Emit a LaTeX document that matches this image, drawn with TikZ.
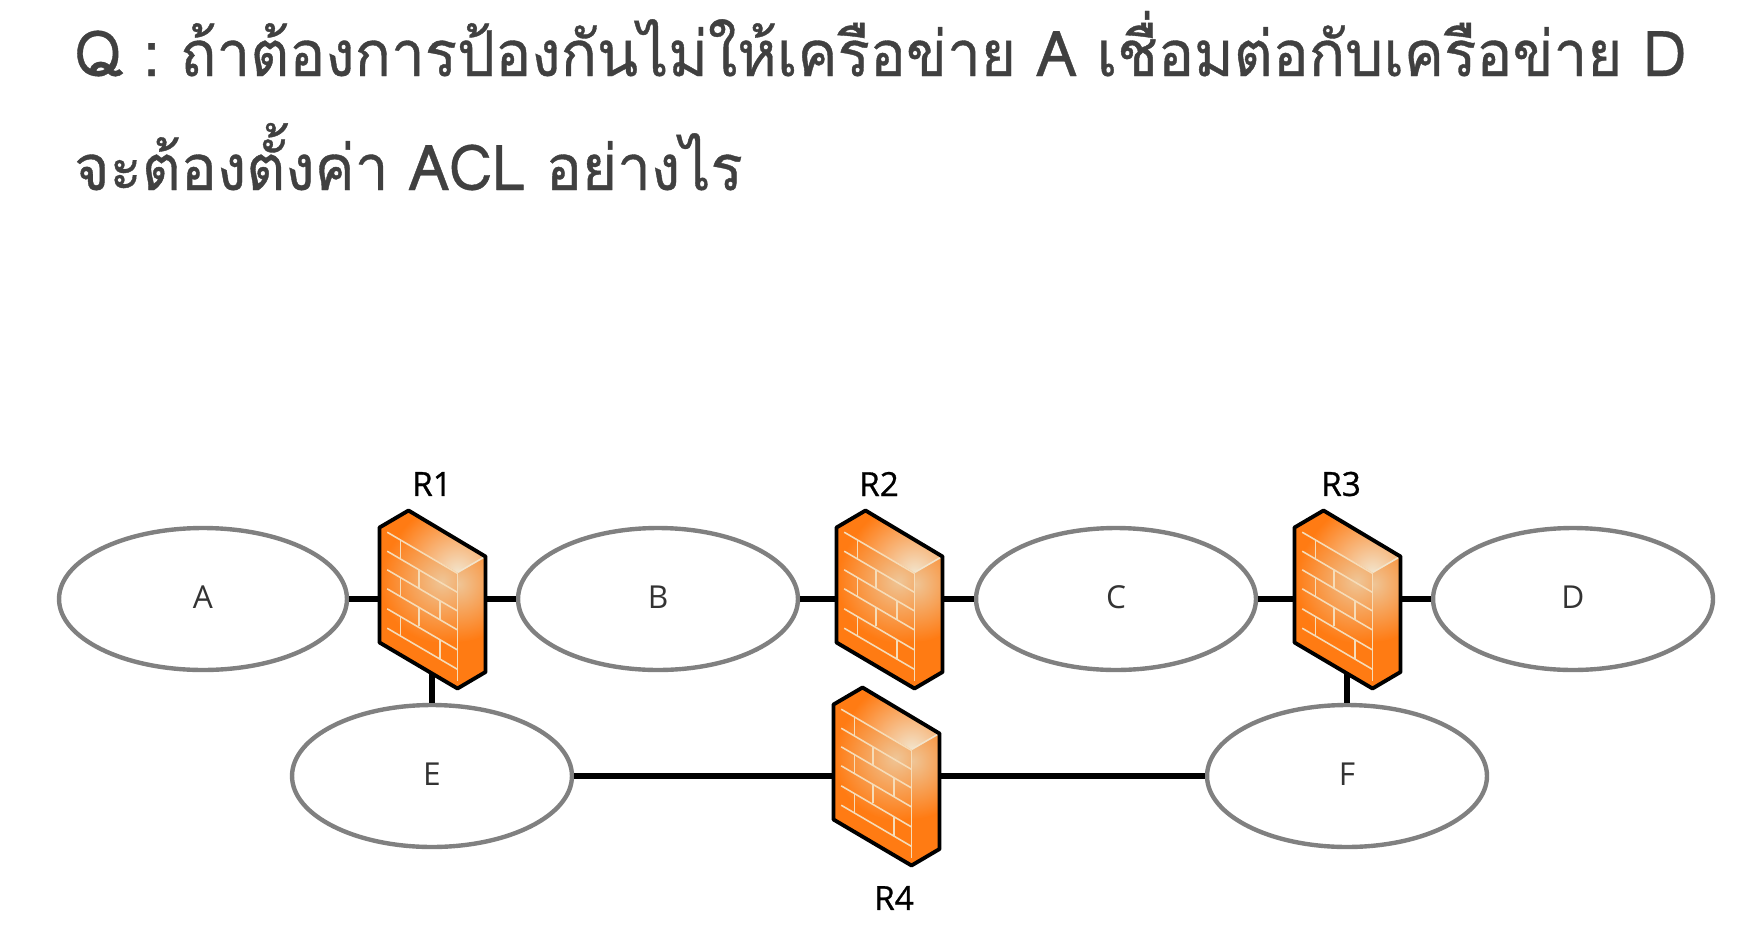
\documentclass[tikz,border=0pt]{standalone}
\usepackage{fontspec}
\usetikzlibrary{shapes.geometric}
\newfontfamily\thaifont[Script=Thai,FakeStretch=0.95,FakeBold=0.6]{Loma}
\newfontfamily\labelfont{Open Sans}
\newfontfamily\fwfont[FakeBold=0.8]{Open Sans}

\definecolor{fworange}{HTML}{FF7B13}
\definecolor{fwlight}{HTML}{EFC596}
\definecolor{fwpale}{HTML}{F2E4CC}
\definecolor{fwbrick}{HTML}{F6DCB8}

\tikzset{
  net/.style={ellipse,draw=black!50,line width=2.5pt,fill=white,inner sep=0pt,
    minimum width=5.6cm,minimum height=2.84cm,text=black!80,text depth=2.5pt,
    font=\labelfont\fontsize{18}{20}\selectfont},
  fwbox/.style={rectangle,inner sep=0pt,minimum width=2.1cm,minimum height=3cm},
  fwlabel/.style={text=black,font=\fwfont\fontsize{19}{21}\selectfont},
  link/.style={line width=3pt,black},
  title/.style={anchor=base west,inner sep=0pt,text=black!75,font=\thaifont\fontsize{36}{40}\selectfont}
}

\newcommand{\firewall}[1]{
  \begin{scope}[shift={(#1)}]
    \coordinate (tv) at (-23.5,-88.5);
    \coordinate (tl) at (-52.5,-71.5);
    \coordinate (bl) at (-52.5,43.5);
    \coordinate (bv) at (25.5,89.5);
    \coordinate (br) at (53.5,73);
    \coordinate (tr) at (53.5,-42.5);
    \coordinate (ic) at (25.5,-26.5);

    \fill [fworange] (tv) -- (tl) -- (bl) -- (bv) -- (br) -- (tr) -- cycle;

    \begin{scope}
      \clip (tl) -- (ic) -- (bv) -- (bl) -- cycle;
      \shade [inner color=fwlight,outer color=fworange] (10,-18) circle (62);
    \end{scope}
    \begin{scope}
      \clip (tv) -- (tl) -- (ic) -- (tr) -- cycle;
      \shade [inner color=fwpale,outer color=fworange] (ic) circle (70);
    \end{scope}
    \begin{scope}
      \clip (ic) -- (tr) -- (br) -- (bv) -- cycle;
      \shade [inner color=fwlight,outer color=fworange] (26,-15) circle (58);
    \end{scope}

    \foreach \yy in {-66.8,-47.8,-29.2,-10.2,9.8,29.2}
      \draw [fwbrick,line width=0.9pt] (-44.8,\yy) -- (25.2,{\yy+41});
    \foreach \xx/\yy in {-31.5/-66.8,-13/-47.8,-31.5/-29.2,8/-29.2,-13/-10.2,-31.5/9.8,8/9.8}
      \draw [fwbrick,line width=0.9pt] (\xx,{\yy+0.585*(\xx+44.8)}) -- ++(0,19);
    \draw [fwbrick,line width=0.9pt] (ic) -- (25.5,82);
    \draw [fwpale,line width=0.9pt] (ic) -- (51.5,-41.5);

    \draw [black,line width=2.2pt,line join=round]
      (tv) -- (tl) -- (bl) -- (bv) -- (br) -- (tr) -- cycle;
  \end{scope}
}

\begin{document}
\begin{tikzpicture}[x=0.02cm,y=-0.02cm]
  \useasboundingbox (0,0) rectangle (1740,940);

  \node [title] (line1) at (74,76) {Q : ถ้าต้องการป้องกันไม่ให้เครือข่าย A เชื่อมต่อกับเครือข่าย D};
  \node [title] (line2) at (74,190) {จะต้องตั้งค่า ACL อย่างไร};

  \node [net,minimum width=5.76cm] (a) at (203,599) {A};
  \node [net] (b) at (658,599) {B};
  \node [net] (c) at (1116,599) {C};
  \node [net] (d) at (1573,599) {D};
  \node [net] (e) at (432,776) {E};
  \node [net] (f) at (1347,776) {F};

  \node [fwbox] (r1) at (432,599) {};
  \node [fwbox] (r2) at (889,599) {};
  \node [fwbox] (r3) at (1347,599) {};
  \node [fwbox] (r4) at (886,776) {};

  \draw [link] (a) -- (r1);
  \draw [link] (r1) -- (b);
  \draw [link] (b) -- (r2);
  \draw [link] (r2) -- (c);
  \draw [link] (c) -- (r3);
  \draw [link] (r3) -- (d);
  \draw [link] (r1) -- (e);
  \draw [link] (r3) -- (f);
  \draw [link] (e) -- (r4);
  \draw [link] (r4) -- (f);

  \firewall{r1}
  \firewall{r2}
  \firewall{r3}
  \firewall{r4}

  \node [fwlabel] (r1label) at (432,484) {R1};
  \node [fwlabel] (r2label) at (879,484) {R2};
  \node [fwlabel] (r3label) at (1341,484) {R3};
  \node [fwlabel] (r4label) at (894,898) {R4};
\end{tikzpicture}
\end{document}
